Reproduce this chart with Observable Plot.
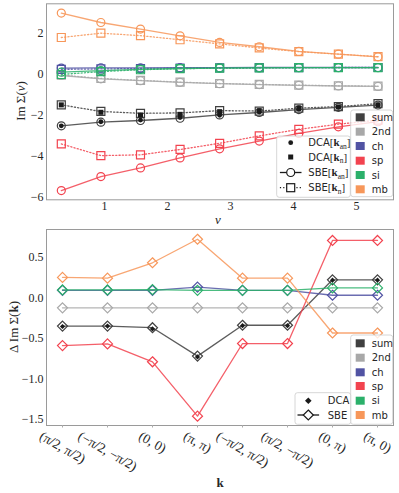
<!DOCTYPE html>
<html><head><meta charset="utf-8">
<script src="https://cdn.jsdelivr.net/npm/d3@7"></script>
<script src="https://cdn.jsdelivr.net/npm/@observablehq/plot@0.6"></script>
<style>
body{margin:0;background:#fff;}
#chart{width:399px;height:493px;}
#chart svg{display:block;}
</style></head><body><div id="chart"></div>
<script>
// ---------- data ----------
const seriesNames = ["sum", "2nd", "ch", "sp", "si", "mb"];
const seriesColors = ["#404040", "#a8a8a8", "#5153a3", "#f2434f", "#2bb06a", "#f7975a"];

// Matsubara frequencies (top panel x)
const nu = [0.314, 0.942, 1.571, 2.199, 2.827, 3.456, 4.084, 4.712, 5.341];

// SBE at k_an (solid, circles)
const kan_sum = [-2.53, -2.35, -2.27, -2.16, -2.00, -1.88, -1.74, -1.63, -1.52];
const kan_2nd = [-0.08, -0.24, -0.33, -0.41, -0.48, -0.52, -0.56, -0.59, -0.61];
const kan_ch  = [0.28, 0.29, 0.29, 0.30, 0.30, 0.31, 0.31, 0.31, 0.31];
const kan_sp  = [-5.68, -5.00, -4.58, -4.09, -3.65, -3.27, -2.90, -2.58, -2.33];
const kan_si  = [0.08, 0.16, 0.22, 0.26, 0.28, 0.29, 0.30, 0.30, 0.30];
const kan_mb  = [2.96, 2.50, 2.18, 1.85, 1.53, 1.32, 1.09, 0.96, 0.83];

// SBE at k_n (dotted, squares)
const kn_sum = [-1.51, -1.83, -1.92, -1.90, -1.79, -1.81, -1.67, -1.59, -1.45];
const kn_2nd = [-0.06, -0.22, -0.32, -0.40, -0.47, -0.51, -0.55, -0.58, -0.60];
const kn_ch  = [0.22, 0.24, 0.26, 0.28, 0.29, 0.30, 0.30, 0.31, 0.31];
const kn_sp  = [-3.41, -3.98, -3.94, -3.68, -3.38, -3.02, -2.70, -2.45, -2.25];
const kn_si  = [-0.03, 0.11, 0.20, 0.25, 0.28, 0.29, 0.30, 0.30, 0.30];
const kn_mb  = [1.77, 1.98, 1.86, 1.66, 1.46, 1.26, 1.08, 0.96, 0.84];

// DCA (black markers)
const dca_kan = [-2.53, -2.33, -2.25, -2.13, -2.02, -1.86, -1.72, -1.63, -1.51];
const dca_kn  = [-1.51, -1.87, -2.00, -1.97, -1.84, -1.80, -1.68, -1.61, -1.51];

// bottom panel
const kLabels = ["(π/2, π/2)", "(−π/2, −π/2)", "(0, 0)", "(π, π)", "(−π/2, π/2)", "(π/2, −π/2)", "(0, π)", "(π, 0)"];
const dk_sum = [-0.35, -0.35, -0.37, -0.72, -0.34, -0.34, 0.22, 0.22];
const dk_2nd = [-0.125, -0.125, -0.125, -0.125, -0.125, -0.125, -0.125, -0.125];
const dk_ch  = [0.09, 0.09, 0.09, 0.13, 0.09, 0.09, 0.03, 0.03];
const dk_sp  = [-0.59, -0.57, -0.79, -1.46, -0.565, -0.565, 0.705, 0.705];
const dk_si  = [0.095, 0.095, 0.10, 0.09, 0.09, 0.09, 0.12, 0.12];
const dk_mb  = [0.25, 0.24, 0.43, 0.72, 0.24, 0.24, -0.435, -0.435];
const dk_dca = [-0.355, -0.35, -0.385, -0.73, -0.345, -0.345, 0.215, 0.215];

const yTopTicks = [-6, -4, -2, 0, 2];
const xTopTicks = [1, 2, 3, 4, 5];
const yBotTicks = [-1.5, -1.0, -0.5, 0.0, 0.5];

// ---------- helpers ----------
const kanBy = {sum: kan_sum, "2nd": kan_2nd, ch: kan_ch, sp: kan_sp, si: kan_si, mb: kan_mb};
const knBy  = {sum: kn_sum, "2nd": kn_2nd, ch: kn_ch, sp: kn_sp, si: kn_si, mb: kn_mb};
const dkBy  = {sum: dk_sum, "2nd": dk_2nd, ch: dk_ch, sp: dk_sp, si: dk_si, mb: dk_mb};

const squareSym = {draw(ctx, size) { const h = Math.sqrt(size / Math.PI); ctx.moveTo(-h, -h); ctx.lineTo(h, -h); ctx.lineTo(h, h); ctx.lineTo(-h, h); ctx.closePath(); }};
const diamondSym = {draw(ctx, size) { const h = Math.sqrt(size / Math.PI); ctx.moveTo(0, -h); ctx.lineTo(h, 0); ctx.lineTo(0, h); ctx.lineTo(-h, 0); ctx.closePath(); }};

const SERIF = "'Liberation Serif', 'DejaVu Serif', serif";
const SANS = "'DejaVu Sans', sans-serif";
const TXT = "#262626";
const DOT = "1.2,2.1";

function addRich(svg, x, y, segs, {anchor = "start", rotate = 0, size = 10} = {}) {
  const t = d3.select(svg).append("text")
    .attr("transform", `translate(${x},${y}) rotate(${rotate})`)
    .attr("text-anchor", anchor).attr("fill", TXT).attr("font-size", size)
    .attr("dy", "0.35em");
  for (const s of segs) {
    const ts = t.append("tspan").text(s.t).attr("font-family", s.f || SERIF);
    if (s.w) ts.attr("font-weight", s.w);
    if (s.i) ts.attr("font-style", "italic");
    if (s.s) ts.attr("font-size", s.s);
    if (s.dy) ts.attr("dy", s.dy);
  }
  return t;
}
function legendBox(svg, x0, y0, x1, y1) {
  d3.select(svg).append("rect").attr("x", x0).attr("y", y0).attr("width", x1 - x0).attr("height", y1 - y0)
    .attr("rx", 2.5).attr("fill", "white").attr("fill-opacity", 0.8).attr("stroke", "#cccccc").attr("stroke-width", 0.8);
}
function colorLegend(svg, x0, y0, x1, y1, rows) {
  legendBox(svg, x0, y0, x1, y1);
  const g = d3.select(svg);
  seriesNames.forEach((n, i) => {
    g.append("rect").attr("x", x0 + 5).attr("y", rows[i] - 4).attr("width", 9).attr("height", 8).attr("fill", seriesColors[i]);
    addRich(svg, x0 + 21, rows[i], [{t: n, f: SANS}], {size: 10});
  });
}
function bracket(sub) {
  return [{t: "[", f: SERIF, s: 11}, {t: "k", f: SERIF, w: "bold", s: 11}, {t: sub, f: SERIF, s: 7.5, dy: 2.5}, {t: "]", f: SERIF, s: 11, dy: -2.5}];
}

// ---------- top panel ----------
const topMarks = [];
seriesNames.forEach((n, i) => {
  const c = seriesColors[i];
  const dKn = nu.map((x, j) => ({x, y: knBy[n][j]}));
  const dKan = nu.map((x, j) => ({x, y: kanBy[n][j]}));
  topMarks.push(Plot.line(dKn, {x: "x", y: "y", stroke: c, strokeWidth: 1.3, strokeDasharray: DOT, strokeOpacity: 0.85}));
  topMarks.push(Plot.dot(dKn, {x: "x", y: "y", stroke: c, fill: "none", symbol: squareSym, r: 4, strokeWidth: 1.2}));
  topMarks.push(Plot.line(dKan, {x: "x", y: "y", stroke: c, strokeWidth: 1.3, strokeOpacity: 0.85}));
  topMarks.push(Plot.dot(dKan, {x: "x", y: "y", stroke: c, fill: "none", symbol: "circle", r: 4, strokeWidth: 1.2}));
});
topMarks.push(Plot.dot(nu.map((x, j) => ({x, y: dca_kan[j]})), {x: "x", y: "y", fill: "#1a1a1a", r: 2.4}));
topMarks.push(Plot.dot(nu.map((x, j) => ({x, y: dca_kn[j]})), {x: "x", y: "y", fill: "#1a1a1a", symbol: squareSym, r: 2.5}));

const topSvg = Plot.plot({
  width: 399, height: 226,
  marginTop: 3.3, marginBottom: 26.7, marginLeft: 46, marginRight: 6,
  style: {fontFamily: SERIF, fontSize: "12px", color: TXT, background: "white", overflow: "visible"},
  x: {domain: [0.079, 5.587]},
  y: {domain: [-6.13, 3.41]},
  marks: [
    ...topMarks,
    Plot.frame({stroke: "#9a9a9a"}),
    Plot.axisX({ticks: xTopTicks, tickFormat: d3.format("d"), tickSize: 0, tickPadding: 2, label: null}),
    Plot.axisY({ticks: yTopTicks, tickFormat: d3.format("d"), tickSize: 0, tickPadding: 3, label: null})
  ]
});

// ---------- bottom panel ----------
const botMarks = [];
seriesNames.forEach((n, i) => {
  const c = seriesColors[i];
  const d = kLabels.map((k, j) => ({k, y: dkBy[n][j]}));
  botMarks.push(Plot.line(d, {x: "k", y: "y", stroke: c, strokeWidth: 1.3, strokeOpacity: 0.85}));
  botMarks.push(Plot.dot(d, {x: "k", y: "y", stroke: c, fill: "none", symbol: diamondSym, r: 5, strokeWidth: 1.2}));
});
botMarks.push(Plot.dot(kLabels.map((k, j) => ({k, y: dk_dca[j]})), {x: "k", y: "y", fill: "#1a1a1a", symbol: diamondSym, r: 2.6}));

const LBL_FS = 13.5;
const ctx = document.createElement("canvas").getContext("2d");
ctx.font = `${LBL_FS}px 'Liberation Serif'`;
const labelMarks = kLabels.map(lab => {
  const L = ctx.measureText(lab).width;
  const dy = 4 + (L * 0.5 + LBL_FS * 0.8) / 2;
  return Plot.text([lab], {x: d => d, text: d => d, frameAnchor: "bottom", rotate: 30, textAnchor: "middle", lineAnchor: "middle", dy, fontSize: LBL_FS, fill: TXT});
});

const botSvg = Plot.plot({
  width: 399, height: 267,
  marginTop: 3, marginBottom: 68, marginLeft: 46, marginRight: 6,
  style: {fontFamily: SERIF, fontSize: "12px", color: TXT, background: "white", overflow: "visible"},
  x: {type: "point", domain: kLabels, padding: 0.34},
  y: {domain: [-1.575, 0.84]},
  marks: [
    ...botMarks,
    Plot.frame({stroke: "#9a9a9a"}),
    Plot.axisX({tickSize: 2.5, tickFormat: () => "", stroke: "#aaa", label: null}),
    ...labelMarks,
    Plot.axisY({ticks: yBotTicks, tickFormat: ".1f", tickSize: 0, tickPadding: 3, label: null})
  ]
});

// ---------- legends & axis labels ----------
colorLegend(topSvg, 350.7, 110, 392.7, 196.7, [117.3, 131.7, 146, 160.7, 175, 189.3]);
legendBox(topSvg, 276.7, 136, 350.3, 197.3);
{
  const g = d3.select(topSvg);
  const rows = [142.7, 157, 172.5, 187.7];
  const cx = 290.7;
  g.append("circle").attr("cx", cx).attr("cy", rows[0]).attr("r", 2.4).attr("fill", "#1a1a1a");
  g.append("rect").attr("x", cx - 2.5).attr("y", rows[1] - 2.5).attr("width", 5).attr("height", 5).attr("fill", "#1a1a1a");
  g.append("line").attr("x1", cx - 10.8).attr("x2", cx + 10.8).attr("y1", rows[2]).attr("y2", rows[2]).attr("stroke", "#1a1a1a").attr("stroke-width", 1.3);
  g.append("circle").attr("cx", cx).attr("cy", rows[2]).attr("r", 4).attr("fill", "white").attr("stroke", "#1a1a1a").attr("stroke-width", 1.2);
  g.append("line").attr("x1", cx - 10.8).attr("x2", cx + 10.8).attr("y1", rows[3]).attr("y2", rows[3]).attr("stroke", "#1a1a1a").attr("stroke-width", 1.3).attr("stroke-dasharray", DOT);
  g.append("rect").attr("x", cx - 4).attr("y", rows[3] - 4).attr("width", 8).attr("height", 8).attr("fill", "white").attr("stroke", "#1a1a1a").attr("stroke-width", 1.2);
  addRich(topSvg, 308.3, rows[0], [{t: "DCA", f: SANS, s: 10}, ...bracket("an")]);
  addRich(topSvg, 308.3, rows[1], [{t: "DCA", f: SANS, s: 10}, ...bracket("n")]);
  addRich(topSvg, 308.3, rows[2], [{t: "SBE", f: SANS, s: 10}, ...bracket("an")]);
  addRich(topSvg, 308.3, rows[3], [{t: "SBE", f: SANS, s: 10}, ...bracket("n")]);
}
addRich(topSvg, 20, 101, [{t: "Im Σ("}, {t: "ν", i: true}, {t: ")"}], {anchor: "middle", rotate: -90, size: 13});
addRich(topSvg, 218, 219, [{t: "ν", i: true}], {anchor: "middle", size: 13});

colorLegend(botSvg, 350.7, 109, 392.7, 198.3, [117.3, 131.7, 146.3, 160, 174.7, 189]);
legendBox(botSvg, 295, 166.7, 350.7, 198.3);
{
  const g = d3.select(botSvg);
  const rows = [174.7, 189];
  const cx = 308.3;
  g.append("path").attr("d", `M${cx},${rows[0] - 3.3}L${cx + 3.3},${rows[0]}L${cx},${rows[0] + 3.3}L${cx - 3.3},${rows[0]}Z`).attr("fill", "#1a1a1a");
  g.append("line").attr("x1", cx - 10.8).attr("x2", cx + 10.8).attr("y1", rows[1]).attr("y2", rows[1]).attr("stroke", "#1a1a1a").attr("stroke-width", 1.3);
  g.append("path").attr("d", `M${cx},${rows[1] - 5}L${cx + 5},${rows[1]}L${cx},${rows[1] + 5}L${cx - 5},${rows[1]}Z`).attr("fill", "white").attr("stroke", "#1a1a1a").attr("stroke-width", 1.2);
  addRich(botSvg, 327.7, rows[0], [{t: "DCA", f: SANS}], {size: 10});
  addRich(botSvg, 327.7, rows[1], [{t: "SBE", f: SANS}], {size: 10});
}
addRich(botSvg, 13, 101, [{t: "Δ Im Σ("}, {t: "k", w: "bold"}, {t: ")"}], {anchor: "middle", rotate: -90, size: 13});
addRich(botSvg, 220, 256, [{t: "k", w: "bold"}], {anchor: "middle", size: 13});

const host = document.getElementById("chart");
host.appendChild(topSvg);
host.appendChild(botSvg);
</script>
</body></html>
